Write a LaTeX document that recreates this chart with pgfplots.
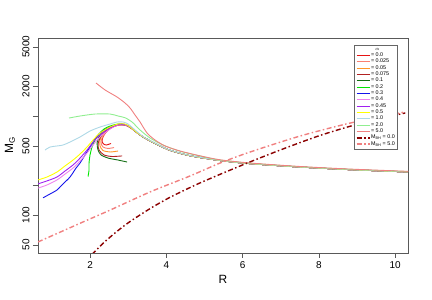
\documentclass[border=0pt]{standalone}
\usepackage{fontspec}
\setmainfont{Liberation Sans}
\usepackage{pgfplots}
\pgfplotsset{compat=1.18}
\definecolor{cA}{RGB}{230,20,20}
\definecolor{cB}{RGB}{250,128,114}
\definecolor{cC}{RGB}{255,150,40}
\definecolor{cD}{RGB}{178,34,34}
\definecolor{cE}{RGB}{20,110,20}
\definecolor{cF}{RGB}{0,230,0}
\definecolor{cG}{RGB}{20,20,235}
\definecolor{cH}{RGB}{238,130,238}
\definecolor{cI}{RGB}{160,32,240}
\definecolor{cJ}{RGB}{255,255,0}
\definecolor{cK}{RGB}{173,216,230}
\definecolor{cL}{RGB}{144,238,144}
\definecolor{cM}{RGB}{240,128,128}
\definecolor{cN}{RGB}{139,0,0}
\begin{document}
\begin{tikzpicture}
\useasboundingbox (-38bp,-47bp) rectangle (394bp,253bp);
\begin{axis}[
 scale only axis, width=370bp, height=215bp,
 at={(0,0)}, anchor=south west,
 xmin=0.635, xmax=10.34, ymin=41.3, ymax=6140, ymode=log,
 axis line style={black!65},
 tick style={black!65, line width=0.5bp},
 tick align=outside, major tick length=5bp,
 xtick pos=lower, ytick pos=left, yminorticks=false,
 xtick={2,4,6,8,10}, xticklabels={2,4,6,8,10},
 ytick={50,100,200,500,1000,2000,5000}, yticklabels={50,100,,500,,2000,5000},
 tick label style={font=\fontsize{10}{12}\selectfont},
 yticklabel style={rotate=90, anchor=south},
 xlabel={R}, ylabel={M\textsubscript{G}},
 label style={font=\fontsize{12}{14}\selectfont},
 xlabel style={at={(axis description cs:0.5,0)}, anchor=center, yshift=-26bp},
 ylabel style={at={(axis description cs:-0.0757,0.5)}, anchor=center},
 every axis plot/.append style={line width=0.9bp, smooth, tension=0.45},
 legend image code/.code={\draw[#1] (0bp,0bp) -- (13bp,0bp);},
 legend style={at={(0.972,0.967)}, anchor=north east, draw=black!60,
   font=\fontsize{5.4}{5.8}\selectfont, inner sep=2bp, row sep=-0.1bp,
   nodes={inner sep=0.6bp},
   cells={anchor=west}},
]
\addlegendimage{empty legend}\addlegendentry{\hspace*{4bp}$\alpha$}
\addplot[cA] coordinates {(2.551,528) (2.42,509) (2.341,528) (2.315,572) (2.367,643) (2.472,722) (2.63,785) (2.80,815) (2.95,800) (3.05,765) (3.23,680) (3.39,614) (3.63,546) (3.84,498) (4.10,450) (4.62,397) (5.41,355) (6.20,330) (7.51,305) (8.82,287) (10.34,272)};
\addlegendentry{= 0.0}
\addplot[cB] coordinates {(2.63,480) (2.472,470) (2.341,486) (2.289,534) (2.315,599) (2.42,689) (2.577,766) (2.80,820) (2.95,805) (3.05,768) (3.23,680) (3.39,614) (3.63,546) (3.84,498) (4.10,450) (4.62,397) (5.41,355) (6.20,330) (7.51,305) (8.82,287) (10.34,272)};
\addlegendentry{= 0.025}
\addplot[cC] coordinates {(2.735,443) (2.525,433) (2.341,448) (2.262,498) (2.262,572) (2.341,658) (2.525,757) (2.75,820) (2.92,815) (3.05,770) (3.23,680) (3.39,614) (3.63,546) (3.84,498) (4.10,450) (4.62,397) (5.41,355) (6.20,330) (7.51,305) (8.82,287) (10.34,272)};
\addlegendentry{= 0.05}
\addplot[cD] coordinates {(2.840,395) (2.577,390) (2.367,404) (2.236,453) (2.210,521) (2.262,599) (2.367,689) (2.525,766) (2.735,811) (2.92,812) (3.05,772) (3.23,680) (3.39,614) (3.63,546) (3.84,498) (4.10,450) (4.62,397) (5.41,355) (6.20,330) (7.51,305) (8.82,287) (10.34,272)};
\addlegendentry{= 0.075}
\addplot[cE] coordinates {(2.971,343) (2.735,359) (2.472,376) (2.289,404) (2.210,453) (2.184,534) (2.236,614) (2.341,705) (2.525,774) (2.735,820) (2.92,815) (3.05,772) (3.23,680) (3.39,614) (3.63,546) (3.84,498) (4.10,450) (4.62,397) (5.41,355) (6.20,330) (7.51,305) (8.82,287) (10.34,272)};
\addlegendentry{= 0.1}
\addplot[cF] coordinates {(1.948,245) (1.974,285) (1.974,335) (2.0,404) (2.052,486) (2.131,572) (2.236,658) (2.367,740) (2.525,792) (2.735,830) (2.92,820) (3.05,775) (3.23,680) (3.39,614) (3.63,546) (3.84,498) (4.10,450) (4.62,397) (5.41,355) (6.20,330) (7.51,305) (8.82,287) (10.34,272)};
\addlegendentry{= 0.2}
\addplot[cG] coordinates {(0.766,149) (0.950,163) (1.134,179) (1.291,206) (1.475,242) (1.633,298) (1.738,335) (1.869,404) (2.0,486) (2.131,585) (2.262,673) (2.525,774) (2.787,830) (2.95,812) (3.05,775) (3.23,680) (3.39,614) (3.63,546) (3.84,498) (4.10,450) (4.62,397) (5.41,355) (6.20,330) (7.51,305) (8.82,287) (10.34,272)};
\addlegendentry{= 0.3}
\addplot[cH] coordinates {(0.635,187) (0.871,201) (1.134,226) (1.344,259) (1.554,298) (1.738,351) (1.921,423) (2.079,509) (2.262,614) (2.525,740) (2.735,811) (2.92,811) (3.05,772) (3.23,680) (3.39,614) (3.63,546) (3.84,498) (4.10,450) (4.62,397) (5.41,355) (6.20,330) (7.51,305) (8.82,287) (10.34,272)};
\addlegendentry{= 0.4}
\addplot[cI] coordinates {(0.635,206) (0.871,221) (1.134,242) (1.344,278) (1.554,320) (1.738,376) (1.921,453) (2.079,546) (2.262,643) (2.525,757) (2.735,820) (2.92,820) (3.05,774) (3.23,680) (3.39,614) (3.63,546) (3.84,498) (4.10,450) (4.62,397) (5.41,355) (6.20,330) (7.51,305) (8.82,287) (10.34,272)};
\addlegendentry{= 0.45}
\addplot[cJ] coordinates {(0.635,226) (0.871,242) (1.134,272) (1.344,313) (1.554,359) (1.738,413) (1.921,486) (2.079,572) (2.262,673) (2.525,774) (2.735,830) (2.92,830) (3.05,774) (3.23,680) (3.39,614) (3.63,546) (3.84,498) (4.10,450) (4.62,397) (5.41,355) (6.20,330) (7.51,305) (8.82,287) (10.34,272)};
\addlegendentry{= 0.5}
\addplot[cK] coordinates {(0.819,453) (0.950,486) (1.134,498) (1.291,509) (1.475,546) (1.738,614) (2.0,705) (2.262,774) (2.525,830) (2.709,870) (2.866,870) (2.997,830) (3.181,722) (3.39,620) (3.63,550) (3.84,500) (4.10,452) (4.62,399) (5.41,356) (6.20,331) (7.51,306) (8.82,288) (10.34,273)};
\addlegendentry{= 1.0}
\addplot[cL] coordinates {(1.449,954) (1.738,1000) (2.131,1047) (2.525,1047) (2.735,1000) (2.919,960) (3.102,870) (3.312,722) (3.575,599) (3.916,509) (4.362,440) (4.887,394) (5.41,359) (6.20,333) (7.51,307) (8.82,289) (10.34,274)};
\addlegendentry{= 2.0}
\addplot[cM] coordinates {(2.157,2154) (2.394,1833) (2.709,1556) (2.919,1352) (3.050,1205) (3.181,1023) (3.312,870) (3.496,673) (3.706,572) (3.969,498) (4.362,443) (4.887,396) (5.41,361) (6.20,335) (7.51,309) (8.82,291) (10.34,276)};
\addlegendentry{= 5.0}
\addplot[cN, line width=1.4bp, dash pattern=on 5bp off 2.5bp on 1.5bp off 2.5bp] coordinates {(2.052,40) (2.35,52.1) (2.7,68) (3.05,85.9) (3.575,116) (4.1,151) (4.887,211) (5.99,319) (6.987,453) (8.037,637) (9.087,841) (10.27,1074)};
\addlegendentry{M\textsubscript{BH} = 0.0}
\addplot[cM, line width=1.4bp, dash pattern=on 5bp off 2.5bp on 1.5bp off 2.5bp] coordinates {(0.635,53.4) (1.816,85) (2.525,112) (3.575,171) (4.625,248) (5.412,335) (6.199,433) (7.512,628) (8.824,849) (10.27,1100)};
\addlegendentry{M\textsubscript{BH} = 5.0}
\end{axis}
\end{tikzpicture}
\end{document}
